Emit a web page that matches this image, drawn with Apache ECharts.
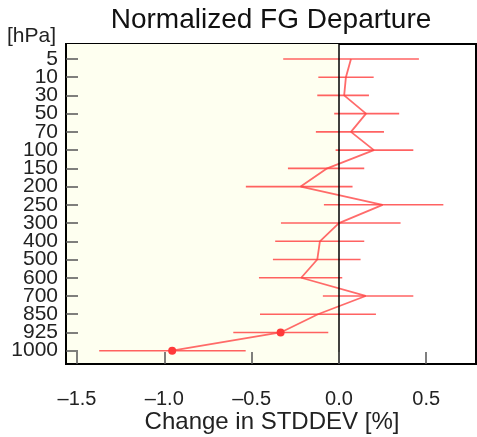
<!DOCTYPE html>
<html>
<head>
<meta charset="utf-8">
<script src="https://cdn.jsdelivr.net/npm/echarts@6/dist/echarts.min.js"></script>
<style>html,body{margin:0;padding:0;background:#fff}#c{width:477px;height:437px}</style>
</head>
<body>
<div id="c"></div>
<script>
const levels = ['5','10','30','50','70','100','150','200','250','300','400','500','600','700','850','925','1000'];
const center = [0.069, 0.040, 0.030, 0.155, 0.069, 0.200, -0.067, -0.219, 0.250, 0.000, -0.109, -0.124, -0.216, 0.153, -0.120, -0.334, -0.955];
const low    = [-0.319, -0.118, -0.124, -0.027, -0.132, -0.019, -0.292, -0.533, -0.086, -0.332, -0.365, -0.378, -0.458, -0.092, -0.452, -0.605, -1.373];
const high   = [0.458, 0.199, 0.172, 0.345, 0.258, 0.426, 0.145, 0.078, 0.598, 0.353, 0.145, 0.124, 0.019, 0.426, 0.212, -0.061, -0.534];
const significant = [false,false,false,false,false,false,false,false,false,false,false,false,false,false,false,true,true];
const xTicks = [-1.5, -1.0, -0.5, 0.0, 0.5];

const FONT = 'Liberation Sans';
const chart = echarts.init(document.getElementById('c'), null, {renderer: 'canvas'});

const lineData = center.map((v, i) => ({
  value: [v, i],
  symbol: significant[i] ? 'circle' : 'none',
  symbolSize: 8
}));
const barData = levels.map((l, i) => [low[i], high[i], i]);
const yIdx = levels.map((l, i) => i);
const yEven = yIdx.filter(i => i % 2 === 0);
const yOdd = yIdx.filter(i => i % 2 === 1);

const yLabelStyle = {margin: 8, fontFamily: FONT, fontSize: 21, color: '#222',
  showMinLabel: true, showMaxLabel: true, hideOverlap: false,
  formatter: v => levels[Math.round(v)]};

chart.setOption({
  animation: false,
  backgroundColor: '#ffffff',
  graphic: [
    {type: 'text', x: 271, y: 6, style: {text: 'Normalized FG Departure', fontFamily: FONT, fontSize: 28, fill: '#111', align: 'center', verticalAlign: 'top'}},
    {type: 'text', left: 7, top: 26, style: {text: '[hPa]', fontFamily: FONT, fontSize: 21, fill: '#222'}},
    {type: 'text', x: 272, y: 410, style: {text: 'Change in STDDEV [%]', fontFamily: FONT, fontSize: 24, fill: '#222', align: 'center', verticalAlign: 'top'}}
  ],
  grid: {left: 66, right: 1, top: 44, bottom: 73, show: true, borderColor: '#000', borderWidth: 2, backgroundColor: '#fff'},
  xAxis: {
    type: 'value', min: -1.563, max: 0.785, z: 6,
    splitLine: {show: false},
    axisLine: {show: true, onZero: false, lineStyle: {color: '#000', width: 2}},
    axisTick: {show: true, inside: true, length: 12, customValues: xTicks, lineStyle: {color: '#555', width: 1.5}},
    axisLabel: {customValues: xTicks, margin: 25, fontFamily: FONT, fontSize: 20, color: '#222',
      showMinLabel: true, showMaxLabel: true,
      formatter: v => (v < 0 ? '\u2013' : '') + Math.abs(v).toFixed(1)}
  },
  yAxis: [
    {
      type: 'value', inverse: true, min: -0.82, max: 16.73, z: 6, position: 'left',
      splitLine: {show: false},
      axisLine: {show: true, onZero: false, lineStyle: {color: '#000', width: 2}},
      axisTick: {show: true, inside: true, length: 12, customValues: yIdx, lineStyle: {color: '#555', width: 1.5}},
      axisLabel: Object.assign({customValues: yEven}, yLabelStyle)
    },
    {
      type: 'value', inverse: true, min: -0.82, max: 16.73, z: 6, position: 'left', offset: 0,
      splitLine: {show: false},
      axisLine: {show: false, onZero: false},
      axisTick: {show: false},
      axisLabel: Object.assign({customValues: yOdd}, yLabelStyle)
    }
  ],
  series: [
    {
      type: 'custom',
      z: 3,
      data: barData,
      renderItem: (params, api) => {
        const a = api.coord([api.value(0), api.value(2)]);
        const b = api.coord([api.value(1), api.value(2)]);
        return {type: 'line', shape: {x1: a[0], y1: a[1], x2: b[0], y2: b[1]},
          style: {stroke: 'rgba(255,70,70,0.85)', lineWidth: 1.6}};
      },
      markArea: {
        silent: true,
        itemStyle: {color: '#fefff0'},
        data: [[{xAxis: -1.563, yAxis: -0.82}, {xAxis: 0, yAxis: 16.73}]]
      },
      markLine: {
        silent: true, symbol: 'none', label: {show: false},
        lineStyle: {color: '#000', width: 1.5, type: 'solid'},
        data: [{xAxis: 0}]
      }
    },
    {
      type: 'line',
      z: 4,
      data: lineData,
      lineStyle: {color: 'rgba(255,70,70,0.8)', width: 1.8},
      itemStyle: {color: '#ff3a3a'},
      showSymbol: true
    }
  ]
});
</script>
</body>
</html>
